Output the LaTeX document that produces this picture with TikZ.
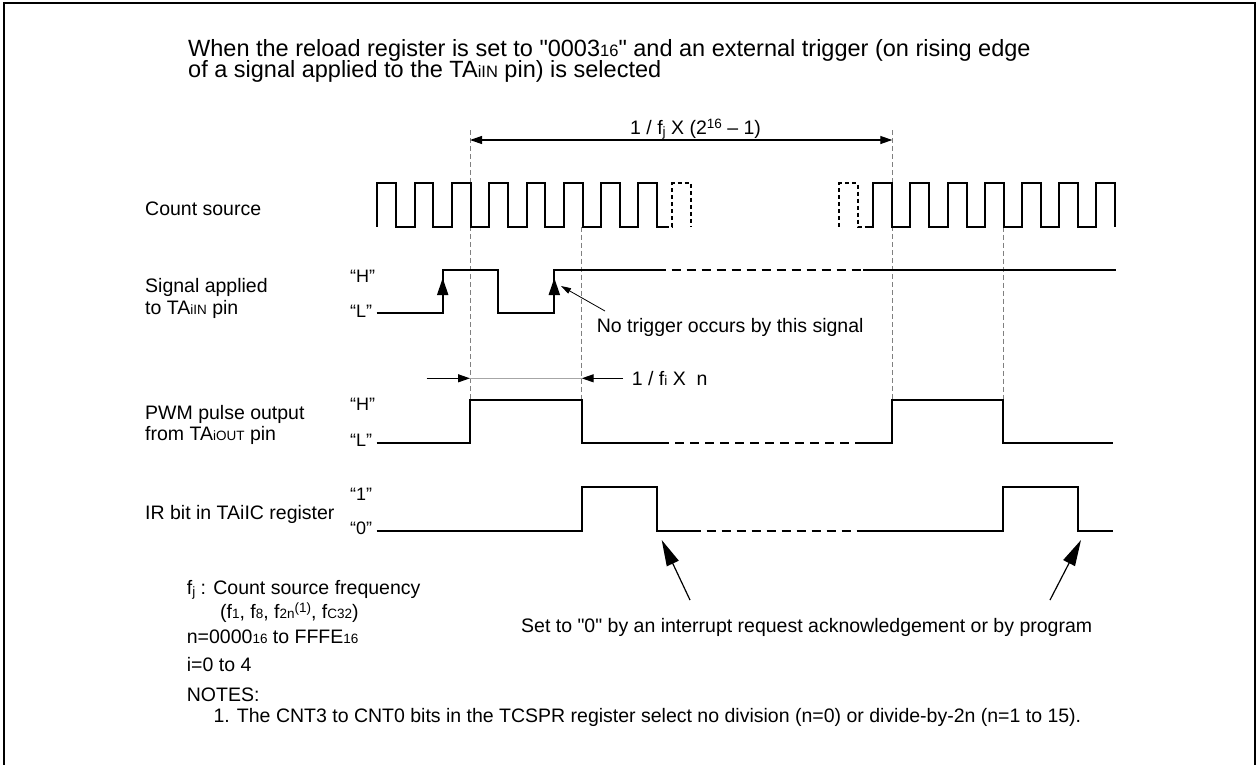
\documentclass[tikz,border=0pt]{standalone}
\usepackage{fontspec}
\setmainfont{Liberation Sans}[Ligatures=TeXOff]
\usetikzlibrary{arrows.meta}
\newcommand\smt[1]{{\fontsize{13.5}{14}\selectfont #1}}
\newcommand\smT[1]{{\fontsize{16.5}{17}\selectfont #1}}
\begin{document}
\begin{tikzpicture}[x=1pt,y=-1pt,
  lbl/.style={anchor=base west, inner sep=0, font=\fontsize{19.5}{23}\selectfont},
  qlbl/.style={anchor=base west, inner sep=0, font=\fontsize{18}{20}\selectfont},
  ttl/.style={anchor=base west, inner sep=0, font=\fontsize{23.5}{28}\selectfont},
  wave/.style={line width=2pt, line join=miter},
  wdash/.style={wave, dash pattern=on 9pt off 6pt},
  wdashs/.style={wave, dash pattern=on 4pt off 3pt},
  guide/.style={gray, line width=0.8pt, dash pattern=on 5pt off 3pt},
  dimarr/.style={line width=1.2pt, -{Triangle[length=12pt,width=8pt]}},
  bigarr/.style={line width=1.2pt, -{Triangle[length=26pt,width=13pt]}},
  trig/.style={line width=2pt, -{Triangle[length=17pt,width=11pt]}},
  notearr/.style={line width=0.8pt, -{Triangle[length=10pt,width=6pt]}}]
\useasboundingbox (0,0) rectangle (1257,764);
% frame
\draw[line width=2pt] (4,766) -- (4,3) -- (1255,3) -- (1255,766);
% title
\node[ttl] (t1) at (188,56) {When the reload register is set to "0003\smT{16}" and an external trigger (on rising edge};
\node[ttl] (t2) at (188,77) {of a signal applied to the TA\smT{iIN} pin) is selected};
% left labels
\node[lbl] (lcs) at (145,215.7) {Count source};
\node[lbl] (ls1) at (145,292.7) {Signal applied};
\node[lbl] (ls2) at (145,314) {to TA\smt{iIN} pin};
\node[lbl] (lp1) at (145,419.3) {PWM pulse output};
\node[lbl] (lp2) at (145,440.7) {from TA\smt{iOUT} pin};
\node[lbl] (lir) at (145,519) {IR bit in TAiIC register};
\node[qlbl] (qh1) at (350,282.7) {“H”};
\node[qlbl] (ql1) at (350,317.3) {“L”};
\node[qlbl] (qh2) at (350,410) {“H”};
\node[qlbl] (ql2) at (350,446.7) {“L”};
\node[qlbl] (q1) at (350,500) {“1”};
\node[qlbl] (q0) at (350,534) {“0”};
% guide lines
\coordinate (ga1) at (470,130); \coordinate (ga2) at (470,400);
\coordinate (gb1) at (581.7,226.7); \coordinate (gb2) at (581.7,400);
\coordinate (gc1) at (892.3,130); \coordinate (gc2) at (892.3,400);
\coordinate (gd1) at (1003.3,226.7); \coordinate (gd2) at (1003.3,400);
\draw[guide] (ga1) -- (ga2);
\draw[guide] (gb1) -- (gb2);
\draw[guide] (gc1) -- (gc2);
\draw[guide] (gd1) -- (gd2);
% period dimension
\coordinate (pa) at (470,140); \coordinate (pb) at (892.3,140);
\draw[dimarr, {Triangle[length=12pt,width=8pt]}-{Triangle[length=12pt,width=8pt]}] (pa) -- (pb);
\node[lbl] (lper) at (630,134.3) {1 / f\raisebox{-2pt}{\smt{j}} X (2\raisebox{6pt}{\smt{16}} – 1)};
% count source
\draw[wave] (377.3,226.7) \foreach \r in {377.3,414.6,451.9,489.2,526.5,563.8,601.1,638.4} { -- (\r,226.7) -- (\r,183.3) -- (\r+18.7,183.3) -- (\r+18.7,226.7) } -- (665,226.7);
\draw[wdashs] (665,226.7) -- (672.3,226.7) -- (672.3,183.3) -- (691,183.3) -- (691,226.7);
\draw[wdashs] (839.3,226.7) -- (839.3,183.3) -- (857.7,183.3) -- (857.7,226.7) -- (866.7,226.7);
\draw[wave] (866.7,226.7) \foreach \r in {873.3,910.4,947.5,984.6,1021.7,1058.8,1095.9} { -- (\r,226.7) -- (\r,183.3) -- (\r+19,183.3) -- (\r+19,226.7) };
% signal applied
\draw[wave] (376.7,313.3) -- (442.7,313.3) -- (442.7,270) -- (498.3,270) -- (498.3,313.3) -- (554.3,313.3) -- (554.3,270) -- (656.7,270);
\draw[wdash] (656.7,270) -- (863.3,270);
\draw[wave] (863.3,270) -- (1116,270);
\coordinate (tr1a) at (442.7,313.3); \coordinate (tr1b) at (442.7,278);
\coordinate (tr2a) at (554.3,313.3); \coordinate (tr2b) at (554.3,278);
\draw[trig] (tr1a) -- (tr1b);
\draw[trig] (tr2a) -- (tr2b);
\node[lbl] (lnt) at (596.7,332.7) {No trigger occurs by this signal};
\coordinate (nta) at (605,311); \coordinate (ntb) at (561,286);
\draw[notearr] (nta) -- (ntb);
% 1/fi X n
\coordinate (na) at (426.7,378.3); \coordinate (nb) at (470,378.3);
\coordinate (nc) at (623,378.3); \coordinate (nd) at (581.7,378.3);
\draw[gray!70, line width=1.5pt] (nb) -- (nd);
\draw[dimarr] (na) -- (nb);
\draw[dimarr] (nc) -- (nd);
\node[lbl] (lfn) at (631.7,385.7) {1 / f\smt{i} X~ n};
% PWM
\draw[wave] (376.7,443.3) -- (470,443.3) -- (470,400) -- (581.7,400) -- (581.7,443.3) -- (660,443.3);
\draw[wdash] (660,443.3) -- (860,443.3);
\draw[wave] (860,443.3) -- (892.3,443.3) -- (892.3,400) -- (1003.3,400) -- (1003.3,443.3) -- (1112.7,443.3);
% IR
\draw[wave] (376.7,530.7) -- (581.7,530.7) -- (581.7,486.7) -- (656.7,486.7) -- (656.7,530.7) -- (691.7,530.7);
\draw[wdash] (691.7,530.7) -- (866,530.7);
\draw[wave] (866,530.7) -- (1003.3,530.7) -- (1003.3,486.7) -- (1078.3,486.7) -- (1078.3,530.7) -- (1112.7,530.7);
% set to 0 arrows
\coordinate (s1a) at (690,600); \coordinate (s1b) at (661.7,540);
\coordinate (s2a) at (1050,600); \coordinate (s2b) at (1081,540);
\draw[bigarr] (s1a) -- (s1b);
\draw[bigarr] (s2a) -- (s2b);
\node[lbl] (lset) at (521,632) {Set to "0" by an interrupt request acknowledgement or by program};
% notes
\node[lbl] (nf) at (186.7,594.3) {f\raisebox{-2pt}{\smt{j}} : Count source frequency};
\node[lbl] (nf2) at (220,618.3) {(f\smt{1}, f\smt{8}, f\smt{2n}\raisebox{6pt}{\smt{(1)}}, f\smt{C32})};
\node[lbl] (nn) at (186.7,643.3) {n=0000\smt{16} to FFFE\smt{16}};
\node[lbl] (ni) at (186.7,671.7) {i=0 to 4};
\node[lbl] (nnotes) at (186.7,701) {NOTES:};
\node[lbl] (nnote1) at (213.3,722.3) {1. The CNT3 to CNT0 bits in the TCSPR register select no division (n=0) or divide-by-2n (n=1 to 15).};
\end{tikzpicture}
\end{document}
